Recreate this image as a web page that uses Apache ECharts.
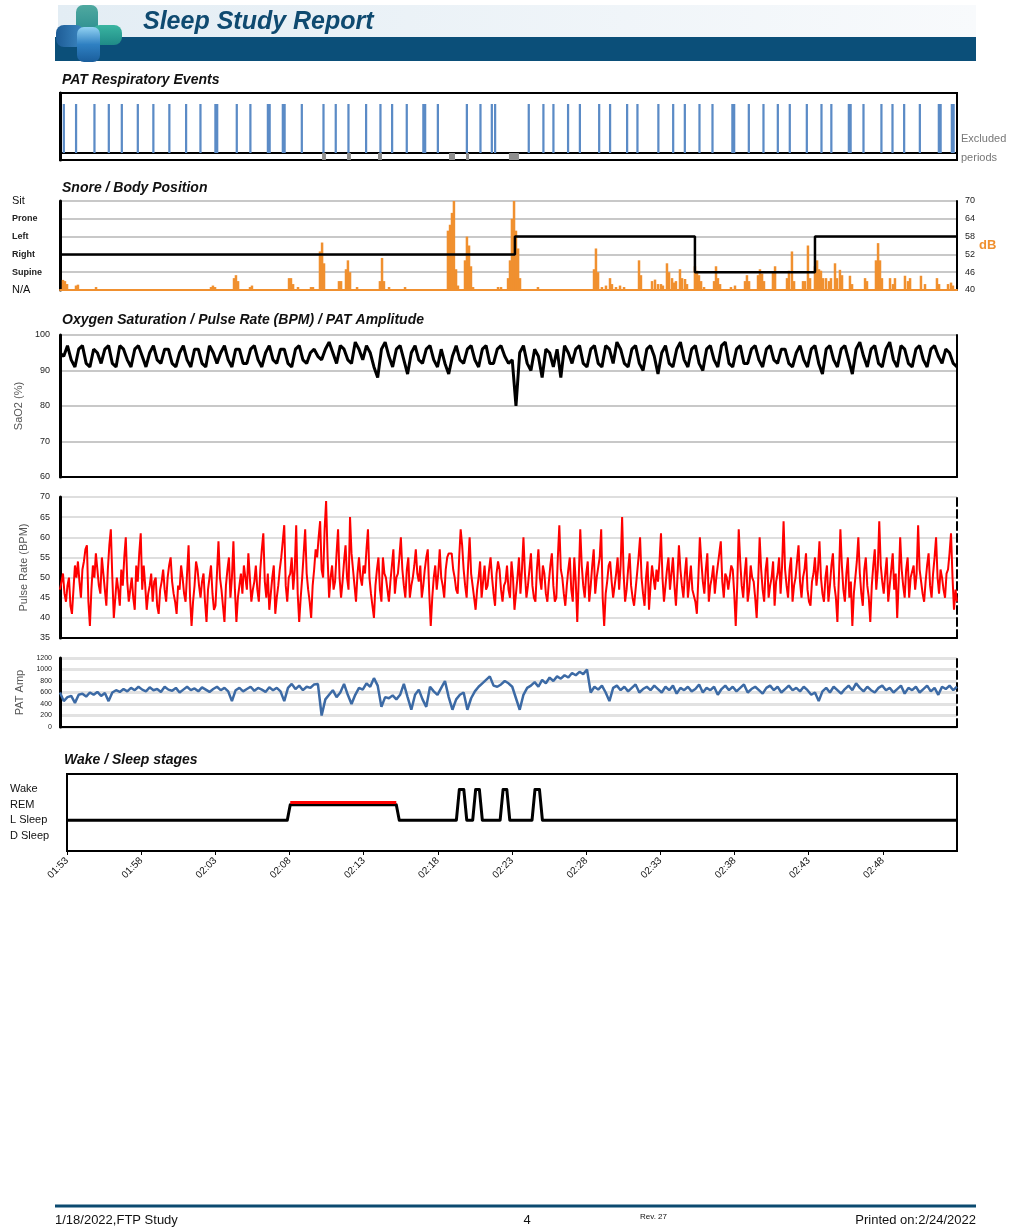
<!DOCTYPE html>
<html>
<head>
<meta charset="utf-8">
<title>Sleep Study Report</title>
<script src="https://cdn.jsdelivr.net/npm/echarts@6.0.0/dist/echarts.min.js"></script>
<style>
  html, body { margin: 0; padding: 0; background: #fff; }
  #chart { width: 1019px; height: 1228px; }
</style>
</head>
<body>
<div id="chart"></div>
<script>
const FONT = "'Liberation Sans', Arial, sans-serif";

// time axis: minutes since 01:53
const timeLabels = ['01:53', '01:58', '02:03', '02:08', '02:13', '02:18', '02:23', '02:28', '02:33', '02:38', '02:43', '02:48'];
const positionLabels = ['N/A', 'Supine', 'Right', 'Left', 'Prone', 'Sit'];
const stageLabels = ['D Sleep', 'L Sleep', 'REM', 'Wake'];

// PAT respiratory events (minutes)
const shortEvents = [0.18, 1.00, 2.23, 3.19, 4.06, 5.13, 6.17, 7.24, 8.36, 9.32, 11.75, 12.66, 16.10, 17.55, 18.37, 19.22,
  20.40, 21.36, 22.14, 23.12, 25.20, 27.14, 28.05, 28.81, 29.03, 31.28, 32.26, 32.93, 33.91, 34.70, 35.99, 36.72, 37.86,
  38.55, 39.95, 40.94, 41.72, 42.70, 43.57, 46.00, 46.98, 47.94, 48.74, 49.88, 50.86, 51.52, 53.67, 54.87, 55.61, 56.39, 57.44];
const longEvents = [10.32, 13.83, 14.83, 24.23, 44.90, 52.69, 58.71, 59.58];
const SHORT_EVENT = 0.15;
const LONG_EVENT = 0.27;
const excludedPeriods = [[17.53, 17.79], [19.20, 19.46], [21.27, 21.54], [26.02, 26.42], [27.16, 27.36], [30.03, 30.70]];

// snore (dB) and body position
const snoreMinutes = [
  0.20, 0.33, 0.47, 1.07, 1.20, 2.41,
  10.10, 10.23, 10.37, 11.64, 11.77, 11.91, 12.71, 12.84,
  15.32, 15.45, 15.59, 15.92, 16.79, 16.92,
  17.39, 17.53, 17.66, 18.66, 18.80, 19.13, 19.26, 19.40, 19.87,
  21.40, 21.54, 21.67, 22.01, 23.08,
  25.95, 26.09, 26.22, 26.35, 26.49, 26.62,
  27.09, 27.22, 27.36, 27.49, 27.63,
  29.30, 29.50,
  29.97, 30.10, 30.23, 30.37, 30.50, 30.64, 30.77,
  31.97,
  35.72, 35.85, 35.99, 36.25, 36.52, 36.79, 36.92,
  37.19, 37.46, 37.73, 38.73, 38.86,
  39.60, 39.80, 40.00, 40.20, 40.33, 40.60, 40.74,
  40.94, 41.07, 41.20, 41.47, 41.61, 41.81, 41.94,
  42.47, 42.61, 42.74, 42.88, 43.08,
  43.75, 43.88, 44.01, 44.15, 44.88, 45.15,
  45.82, 45.95, 46.09, 46.69, 46.82, 46.96, 47.09,
  47.69, 47.83, 48.63, 48.76, 48.96, 49.10,
  49.70, 49.83, 50.03, 50.17,
  50.50, 50.64, 50.77, 50.90, 51.04,
  51.24, 51.44, 51.57, 51.84, 51.97, 52.17, 52.31,
  52.84, 52.98, 53.85, 53.98,
  54.58, 54.72, 54.85, 54.98,
  55.52, 55.72, 55.85, 56.52, 56.72, 56.86,
  57.59, 57.86, 58.66, 58.80, 59.40, 59.60, 59.73
];
const snoreDb = [
  43.4, 43, 42, 41.5, 41.8, 41,
  41, 41.5, 41, 44, 45, 43, 41, 41.5,
  44, 44, 42, 41, 41, 41,
  53, 56, 49, 43, 43, 47, 50, 46, 41,
  43, 50.8, 43, 41, 41,
  60, 62, 66, 70, 47, 41.5,
  50, 58, 55, 48, 41,
  41, 41,
  44, 50, 64, 70, 60, 54, 44,
  41,
  47, 54, 46, 41, 41.5, 44, 42,
  41, 41.5, 41, 50, 45,
  43, 43.5, 42, 42, 41.5, 49, 46,
  44, 42.5, 43, 47, 44, 43.7, 42,
  48, 46.5, 45, 43, 41,
  43, 48, 44, 42, 41, 41.5,
  43, 45, 43, 45, 47, 45.5, 43,
  46, 48, 44, 46.5, 53, 43,
  43, 43, 55, 44,
  48, 50, 47, 46.5, 44,
  44, 43, 44, 49, 44, 46.8, 45,
  44.8, 42, 44, 43,
  50, 55.8, 50, 44,
  44, 42, 44, 44.8, 43, 44,
  44.8, 42, 44, 42, 42, 42.5, 41.5
];
const positionTimes = [0, 30.43, 42.47, 50.5, 60];
const positionLevels = [2, 3, 1, 3, 3];

// SaO2 (%), one sample per 0.25 min
const SPO2_STEP = 0.25;
const spo2 = [
  95, 94, 97, 93, 91, 96, 97, 92, 91, 96, 95, 92, 96, 97, 92, 91, 97, 96, 93, 91,
  96, 97, 94, 91, 95, 97, 93, 92, 96, 96, 92, 91, 95, 97, 93, 91, 96, 96, 92, 91,
  97, 95, 92, 95, 97, 93, 91, 96, 96, 92, 92, 96, 97, 93, 91, 95, 97, 93, 92, 96,
  96, 92, 91, 96, 97, 93, 92, 95, 96, 94, 93, 96, 98, 95, 92, 97, 96, 93, 92, 98,
  96, 93, 97, 95, 91, 88, 96, 98, 94, 91, 96, 97, 93, 89, 95, 97, 93, 92, 96, 97,
  93, 91, 96, 92, 89, 94, 97, 93, 92, 96, 97, 93, 91, 96, 97, 92, 92, 96, 97, 94,
  92, 93, 80, 95, 97, 92, 90, 96, 94, 88, 96, 95, 91, 96, 88, 97, 95, 92, 96, 97,
  92, 91, 96, 97, 92, 91, 97, 96, 92, 98, 96, 92, 91, 96, 97, 92, 90, 96, 97, 94,
  89, 95, 97, 92, 91, 96, 98, 93, 91, 96, 97, 92, 90, 96, 97, 93, 91, 97, 98, 92,
  91, 96, 97, 92, 92, 96, 97, 93, 91, 96, 97, 93, 92, 96, 96, 92, 91, 95, 97, 93,
  91, 96, 97, 92, 89, 96, 97, 93, 91, 96, 97, 93, 89, 96, 98, 94, 91, 96, 97, 92,
  91, 96, 98, 93, 91, 97, 96, 92, 91, 96, 97, 93, 91, 96, 97, 94, 92, 96, 95, 92, 91
];

// pulse rate (BPM), one sample per 0.1 min
const PULSE_STEP = 0.1;
const pulse = [
  47, 49, 51, 46, 44, 48, 50, 43, 41, 47, 53, 50, 54, 49, 45, 52, 54, 57, 58, 44, 38, 47, 53, 50, 56, 52, 48, 46, 55, 51, 47, 43, 52, 58, 62, 50, 40, 45, 50, 47,
  43, 52, 48, 55, 60, 49, 44, 47, 50, 45, 42, 53, 49, 56, 61, 47, 53, 48, 42, 46, 48, 51, 44, 49, 50, 43, 41, 47, 49, 52, 47, 44, 50, 53, 55, 49, 46, 44, 41, 48,
  47, 53, 50, 46, 44, 51, 58, 45, 38, 44, 48, 54, 52, 48, 45, 49, 51, 44, 39, 47, 50, 53, 46, 42, 43, 51, 59, 50, 47, 43, 39, 48, 52, 55, 45, 50, 59, 47, 39, 45,
  48, 51, 46, 53, 50, 47, 56, 50, 44, 47, 49, 53, 47, 44, 52, 57, 61, 49, 45, 51, 42, 46, 50, 53, 41, 45, 48, 52, 55, 59, 63, 48, 44, 50, 51, 55, 47, 52, 63, 46,
  39, 45, 50, 56, 62, 51, 47, 44, 40, 48, 52, 57, 55, 60, 64, 52, 50, 62, 69, 55, 45, 50, 53, 47, 49, 56, 62, 50, 45, 49, 54, 58, 50, 47, 65, 56, 52, 48, 44, 51,
  55, 50, 48, 53, 51, 57, 62, 50, 46, 43, 40, 48, 52, 55, 47, 44, 55, 51, 50, 47, 44, 49, 53, 57, 46, 50, 51, 55, 60, 52, 48, 45, 52, 55, 45, 48, 50, 53, 57, 51,
  49, 53, 45, 48, 52, 55, 57, 46, 38, 45, 50, 53, 47, 51, 57, 50, 48, 45, 52, 55, 56, 56, 56, 52, 50, 47, 46, 55, 62, 58, 52, 48, 45, 53, 60, 51, 48, 45, 42, 47,
  50, 54, 45, 49, 53, 47, 48, 52, 55, 50, 46, 43, 51, 54, 52, 47, 44, 48, 49, 53, 47, 45, 54, 50, 42, 46, 50, 55, 46, 52, 60, 51, 45, 48, 52, 56, 48, 45, 44, 52,
  57, 50, 47, 53, 51, 46, 44, 49, 53, 56, 48, 44, 45, 55, 63, 52, 50, 46, 43, 48, 52, 55, 47, 44, 55, 49, 39, 50, 62, 53, 48, 45, 51, 54, 44, 48, 53, 57, 46, 50,
  50, 55, 62, 45, 38, 46, 49, 53, 54, 49, 45, 48, 51, 55, 47, 53, 65, 51, 44, 47, 52, 56, 48, 45, 43, 47, 51, 55, 60, 50, 46, 43, 50, 54, 42, 48, 53, 50, 47, 52,
  49, 54, 61, 50, 44, 48, 52, 55, 47, 51, 55, 48, 43, 50, 58, 52, 48, 45, 51, 55, 45, 49, 53, 47, 47, 44, 41, 50, 60, 54, 49, 46, 52, 56, 44, 48, 50, 53, 46, 50,
  53, 56, 59, 49, 45, 51, 50, 47, 47, 53, 52, 46, 38, 48, 62, 54, 48, 45, 51, 55, 44, 47, 53, 50, 49, 45, 40, 49, 60, 52, 47, 44, 52, 55, 45, 48, 50, 54, 43, 49,
  51, 55, 46, 53, 64, 52, 48, 45, 52, 55, 44, 48, 50, 54, 58, 49, 45, 50, 52, 56, 47, 44, 43, 49, 51, 55, 48, 52, 59, 50, 46, 44, 50, 53, 44, 48, 53, 56, 48, 45,
  39, 50, 62, 53, 47, 44, 51, 55, 45, 49, 38, 46, 50, 54, 60, 51, 46, 43, 52, 55, 48, 45, 39, 48, 53, 57, 47, 52, 64, 53, 49, 46, 51, 55, 44, 48, 52, 56, 47, 51,
  40, 49, 60, 52, 48, 45, 52, 55, 45, 50, 50, 53, 47, 51, 63, 52, 49, 46, 44, 49, 53, 56, 48, 45, 51, 55, 60, 50, 46, 52, 50, 47, 45, 51, 52, 56, 61, 50, 42, 47, 44
];

// PAT amplitude, one sample per 0.25 min
const PAT_STEP = 0.25;
const patAmp = [
  600, 450, 520, 540, 420, 560, 580, 530, 600, 560, 610, 540, 590, 450, 600, 640, 610, 660, 620, 680,
  640, 700, 650, 620, 690, 640, 660, 610, 700, 650, 630, 680, 600, 650, 700, 640, 670, 620, 690, 650,
  610, 660, 700, 640, 680, 620, 450, 640, 680, 620, 660, 700, 630, 680, 650, 610, 690, 640, 680, 620,
  450, 680, 750, 660, 720, 640, 700, 680, 740, 750, 200, 480, 560, 640, 520, 600, 750, 560, 400, 560,
  680, 650, 760, 700, 850, 720, 350, 520, 500, 550, 480, 560, 750, 520, 300, 560, 650, 480, 350, 700,
  620, 560, 680, 800, 520, 300, 480, 560, 600, 300, 500, 620, 700, 760, 820, 880, 720, 700, 740, 800,
  760, 700, 500, 300, 560, 680, 720, 780, 700, 820, 760, 860, 800, 880, 840, 900, 860, 940, 900, 960,
  920, 1000, 600, 700, 650, 720, 600, 450, 680, 720, 640, 700, 620, 680, 740, 600, 660, 700, 640, 720,
  660, 600, 700, 640, 720, 580, 680, 640, 700, 620, 660, 740, 600, 680, 640, 700, 560, 660, 720, 640,
  700, 620, 680, 740, 600, 660, 700, 640, 580, 680, 720, 640, 700, 600, 660, 720, 640, 680, 620, 700,
  640, 560, 600, 450, 620, 680, 600, 700, 640, 580, 660, 720, 640, 760, 680, 620, 700, 640, 600, 680,
  720, 640, 680, 600, 660, 720, 580, 680, 640, 700, 600, 660, 720, 620, 680, 560, 700, 660, 720, 640, 700
];

// sleep stages: 0 D Sleep, 1 L Sleep, 2 REM, 3 Wake
const stageTimes = [0, 14.85, 15.05, 22.2, 22.4, 26.25, 26.45, 26.75, 26.95, 27.35, 27.55, 27.8, 28.0,
  29.2, 29.4, 29.65, 29.85, 31.35, 31.55, 31.85, 32.05, 60];
const stageLevels = [1, 1, 2, 2, 1, 1, 3, 3, 1, 1, 3, 3, 1, 1, 3, 3, 1, 1, 3, 3, 1, 1];
const remPeriod = [15.05, 22.2];

const EVENT_MIN = -0.143;
const EVENT_MAX = 1.2245;

const chart = echarts.init(document.getElementById('chart'));

function renderSpan(params, api) {
  const a = api.coord([api.value(0), api.value(3)]);
  const b = api.coord([api.value(1), api.value(2)]);
  return {
    type: 'rect',
    shape: { x: a[0], y: a[1], width: b[0] - a[0], height: b[1] - a[1] },
    style: api.style()
  };
}

function timeAxis(gridIndex, lineColor, extra) {
  return Object.assign({
    type: 'value', gridIndex: gridIndex, min: 0, max: 60,
    axisLine: { show: !!lineColor, onZero: false, lineStyle: { color: lineColor || '#000', width: 2 } },
    axisTick: { show: false },
    axisLabel: { show: false },
    splitLine: { show: false }
  }, extra || {});
}

function sideAxis(gridIndex, opts) {
  return Object.assign({
    type: 'value', gridIndex: gridIndex, position: 'right',
    axisLine: { show: true, lineStyle: { color: '#000', width: 2 } },
    axisTick: { show: false },
    axisLabel: { show: false },
    splitLine: { show: false }
  }, opts || {});
}

const labelStyle = { color: '#222', fontFamily: FONT, fontSize: 9 };
const nameStyle = { color: '#555', fontFamily: FONT, fontSize: 11 };

const titleFont = 'italic bold 14px ' + FONT;

const option = {
  animation: false,
  backgroundColor: '#fff',
  grid: [
    { left: 60, top: 93, width: 897, height: 67, show: true, borderColor: '#000', borderWidth: 2 },
    { left: 60, top: 201, width: 897, height: 89 },
    { left: 60, top: 335, width: 897, height: 142 },
    { left: 60, top: 497, width: 897, height: 141 },
    { left: 60, top: 658, width: 897, height: 69 },
    { left: 67, top: 774, width: 890, height: 77, show: true, borderColor: '#000', borderWidth: 2 }
  ],
  xAxis: [
    timeAxis(0, '#000', { axisLine: { show: true, onZero: true, lineStyle: { color: '#000', width: 2 } } }),
    timeAxis(1, '#f0902f'),
    timeAxis(2, '#000'),
    timeAxis(3, '#000'),
    timeAxis(4, '#000'),
    timeAxis(5, '#000', {
      interval: 5,
      axisTick: { show: true, length: 4, lineStyle: { color: '#000' } },
      axisLabel: {
        show: true, rotate: 45, margin: 8, showMaxLabel: false,
        color: '#111', fontFamily: FONT, fontSize: 10,
        formatter: function (v) { return timeLabels[Math.round(v / 5)] || ''; }
      }
    })
  ],
  yAxis: [
    // 0 events
    {
      type: 'value', gridIndex: 0, min: EVENT_MIN, max: EVENT_MAX,
      axisLine: { show: true, lineStyle: { color: '#000', width: 3 } },
      axisTick: { show: false }, axisLabel: { show: false }, splitLine: { show: false }
    },
    // 1 body position
    {
      type: 'value', gridIndex: 1, min: 0, max: 5, interval: 1,
      axisLine: { show: true, lineStyle: { color: '#000', width: 3 } },
      axisTick: { show: false },
      axisLabel: {
        align: 'left', margin: 48,
        formatter: function (v) {
          const s = positionLabels[v];
          return (v === 0 || v === 5) ? '{big|' + s + '}' : '{small|' + s + '}';
        },
        rich: {
          big: { fontFamily: FONT, fontSize: 11, color: '#111' },
          small: { fontFamily: FONT, fontSize: 9, fontWeight: 'bold', color: '#222' }
        }
      },
      splitLine: { show: true, lineStyle: { color: '#c8c8c8', width: 2 } }
    },
    // 2 snore dB
    sideAxis(1, {
      min: 40, max: 70, interval: 6,
      axisLabel: { show: true, margin: 8, color: '#222', fontFamily: FONT, fontSize: 9 }
    }),
    // 3 SaO2
    {
      type: 'value', gridIndex: 2, min: 60, max: 100, interval: 10,
      name: 'SaO2 (%)', nameLocation: 'middle', nameGap: 30, nameTextStyle: nameStyle,
      axisLine: { show: true, lineStyle: { color: '#000', width: 3 } },
      axisTick: { show: false },
      axisLabel: Object.assign({ margin: 10 }, labelStyle),
      splitLine: { show: true, lineStyle: { color: '#c8c8c8', width: 2 } }
    },
    sideAxis(2),
    // 5 pulse
    {
      type: 'value', gridIndex: 3, min: 35, max: 70, interval: 5,
      name: 'Pulse Rate (BPM)', nameLocation: 'middle', nameGap: 30, nameTextStyle: nameStyle,
      axisLine: { show: true, lineStyle: { color: '#000', width: 3 } },
      axisTick: { show: false },
      axisLabel: Object.assign({ margin: 10 }, labelStyle),
      splitLine: { show: true, lineStyle: { color: '#dedede', width: 2 } }
    },
    sideAxis(3, { axisLine: { show: true, lineStyle: { color: '#000', width: 2, type: 'dashed' } } }),
    // 7 PAT amp
    {
      type: 'value', gridIndex: 4, min: 0, max: 1200, interval: 200,
      name: 'PAT Amp', nameLocation: 'middle', nameGap: 32, nameTextStyle: nameStyle,
      axisLine: { show: true, lineStyle: { color: '#000', width: 3 } },
      axisTick: { show: false },
      axisLabel: { margin: 8, color: '#222', fontFamily: FONT, fontSize: 7, formatter: function (v) { return String(v); } },
      splitLine: { show: true, lineStyle: { color: '#e2e2e2', width: 3 } }
    },
    sideAxis(4, { axisLine: { show: true, lineStyle: { color: '#000', width: 2, type: 'dashed' } } }),
    // 9 sleep stages
    {
      type: 'value', gridIndex: 5, min: -1, max: 4, interval: 1,
      axisLine: { show: true, lineStyle: { color: '#000', width: 2 } },
      axisTick: { show: false },
      axisLabel: {
        align: 'left', margin: 57, color: '#111', fontFamily: FONT, fontSize: 11,
        formatter: function (v) { return stageLabels[v] || ''; }
      },
      splitLine: { show: false }
    }
  ],
  series: [
    {
      name: 'Excluded periods', type: 'custom', xAxisIndex: 0, yAxisIndex: 0,
      renderItem: renderSpan, encode: { x: [0, 1], y: [2, 3] },
      itemStyle: { color: '#8e8e8e' },
      data: excludedPeriods.map(function (p) { return [p[0], p[1], EVENT_MIN, 0]; })
    },
    {
      name: 'Events', type: 'custom', xAxisIndex: 0, yAxisIndex: 0,
      renderItem: renderSpan, encode: { x: [0, 1], y: [2, 3] },
      itemStyle: { color: '#5b8bc6' },
      data: shortEvents.map(function (t) { return [t, t + SHORT_EVENT, 0, 1]; })
        .concat(longEvents.map(function (t) { return [t, t + LONG_EVENT, 0, 1]; }))
    },
    {
      name: 'Snore', type: 'bar', xAxisIndex: 1, yAxisIndex: 2, barWidth: 2.5,
      itemStyle: { color: '#f0902f' },
      data: snoreMinutes.map(function (t, i) { return [t, snoreDb[i]]; })
    },
    {
      name: 'Body position', type: 'line', xAxisIndex: 1, yAxisIndex: 1, step: 'end',
      showSymbol: false, lineStyle: { color: '#000', width: 2.5 },
      data: positionTimes.map(function (t, i) { return [t, positionLevels[i]]; })
    },
    {
      name: 'SaO2', type: 'line', xAxisIndex: 2, yAxisIndex: 3, showSymbol: false,
      lineStyle: { color: '#000', width: 3 },
      data: spo2.map(function (v, i) { return [i * SPO2_STEP, v]; })
    },
    {
      name: 'Pulse', type: 'line', xAxisIndex: 3, yAxisIndex: 5, showSymbol: false,
      lineStyle: { color: '#ff0000', width: 2 },
      data: pulse.map(function (v, i) { return [i * PULSE_STEP, v]; })
    },
    {
      name: 'PAT Amp', type: 'line', xAxisIndex: 4, yAxisIndex: 7, showSymbol: false,
      lineStyle: { color: '#3c6aa5', width: 2.5 },
      data: patAmp.map(function (v, i) { return [i * PAT_STEP, v]; })
    },
    {
      name: 'Stage', type: 'line', xAxisIndex: 5, yAxisIndex: 9, showSymbol: false,
      lineStyle: { color: '#000', width: 3, join: 'round' },
      data: stageTimes.map(function (t, i) { return [t, stageLevels[i]]; })
    },
    {
      name: 'REM', type: 'line', xAxisIndex: 5, yAxisIndex: 9, showSymbol: false,
      lineStyle: { color: '#ff0000', width: 3 },
      data: [[remPeriod[0], 2.15], [remPeriod[1], 2.15]]
    }
  ],
  graphic: [
    // header
    {
      type: 'rect', shape: { x: 58, y: 5, width: 918, height: 32 },
      style: { fill: { type: 'linear', x: 0, y: 0, x2: 1, y2: 0, colorStops: [{ offset: 0, color: '#e3edf4' }, { offset: 1, color: '#f8fafc' }] } }
    },
    { type: 'rect', shape: { x: 55, y: 37, width: 921, height: 24 }, style: { fill: '#0b4f79' } },
    {
      type: 'rect', shape: { x: 76, y: 5, width: 22, height: 30, r: 7 },
      style: { fill: { type: 'linear', x: 0, y: 0, x2: 0, y2: 1, colorStops: [{ offset: 0, color: '#4fa9a0' }, { offset: 1, color: '#2a8c8e' }] } }
    },
    {
      type: 'rect', shape: { x: 56, y: 25, width: 28, height: 22, r: 8 },
      style: { fill: { type: 'linear', x: 0, y: 0, x2: 1, y2: 0, colorStops: [{ offset: 0, color: '#1d5c96' }, { offset: 1, color: '#3d88c2' }] } }
    },
    {
      type: 'rect', shape: { x: 92, y: 25, width: 30, height: 20, r: 8 },
      style: { fill: { type: 'linear', x: 0, y: 0, x2: 0, y2: 1, colorStops: [{ offset: 0, color: '#3ab5a1' }, { offset: 1, color: '#1f8b87' }] } }
    },
    {
      type: 'rect', shape: { x: 77, y: 27, width: 23, height: 35, r: 7 },
      style: { fill: { type: 'linear', x: 0, y: 0, x2: 0, y2: 1, colorStops: [{ offset: 0, color: '#92d2f2' }, { offset: 0.5, color: '#2f80c2' }, { offset: 1, color: '#1a5e9c' }] } }
    },
    {
      type: 'text', x: 143, y: 22,
      style: { text: 'Sleep Study Report', font: 'italic bold 25px ' + FONT, fill: '#0f4a70', textAlign: 'left', align: 'left', textVerticalAlign: 'middle', verticalAlign: 'middle' }
    },
    // section titles
    { type: 'text', x: 62, y: 80, style: { text: 'PAT Respiratory Events', font: titleFont, fill: '#111', textVerticalAlign: 'middle', verticalAlign: 'middle' } },
    { type: 'text', x: 62, y: 188, style: { text: 'Snore / Body Position', font: titleFont, fill: '#111', textVerticalAlign: 'middle', verticalAlign: 'middle' } },
    { type: 'text', x: 62, y: 320, style: { text: 'Oxygen Saturation / Pulse Rate (BPM) / PAT Amplitude', font: titleFont, fill: '#111', textVerticalAlign: 'middle', verticalAlign: 'middle' } },
    { type: 'text', x: 64, y: 760, style: { text: 'Wake / Sleep stages', font: titleFont, fill: '#111', textVerticalAlign: 'middle', verticalAlign: 'middle' } },
    // side notes
    { type: 'text', x: 961, y: 139, style: { text: 'Excluded', font: '11px ' + FONT, fill: '#777', textVerticalAlign: 'middle', verticalAlign: 'middle' } },
    { type: 'text', x: 961, y: 158, style: { text: 'periods', font: '11px ' + FONT, fill: '#777', textVerticalAlign: 'middle', verticalAlign: 'middle' } },
    { type: 'text', x: 979, y: 245, style: { text: 'dB', font: 'bold 13px ' + FONT, fill: '#f0902f', textVerticalAlign: 'middle', verticalAlign: 'middle' } },
    // footer
    { type: 'line', shape: { x1: 55, y1: 1206, x2: 976, y2: 1206 }, style: { stroke: '#0b4a70', lineWidth: 3 } },
    { type: 'text', x: 55, y: 1220, style: { text: '1/18/2022,FTP Study', font: '13px ' + FONT, fill: '#111', textVerticalAlign: 'middle', verticalAlign: 'middle' } },
    { type: 'text', x: 527, y: 1220, style: { text: '4', font: '13px ' + FONT, fill: '#111', textAlign: 'center', align: 'center', textVerticalAlign: 'middle', verticalAlign: 'middle' } },
    { type: 'text', x: 640, y: 1217, style: { text: 'Rev. 27', font: '8px ' + FONT, fill: '#111', textVerticalAlign: 'middle', verticalAlign: 'middle' } },
    { type: 'text', x: 976, y: 1220, style: { text: 'Printed on:2/24/2022', font: '13px ' + FONT, fill: '#111', textAlign: 'right', align: 'right', textVerticalAlign: 'middle', verticalAlign: 'middle' } }
  ]
};

chart.setOption(option);
</script>
</body>
</html>
